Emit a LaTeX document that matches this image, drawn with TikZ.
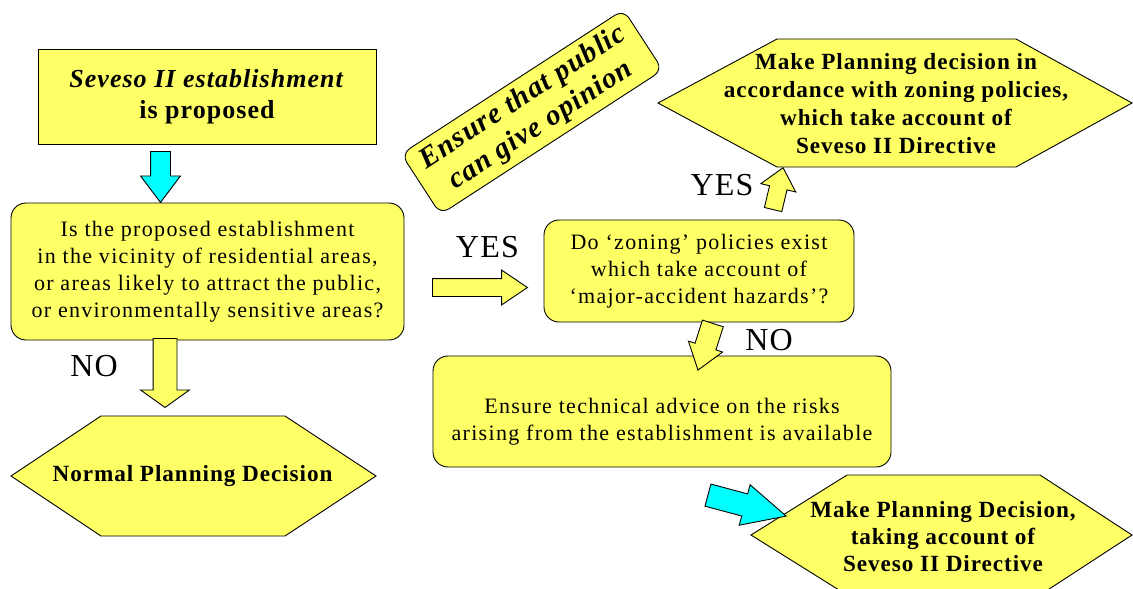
\documentclass[tikz,border=0pt]{standalone}
\usepackage{fontspec}
\setmainfont{Liberation Serif}[LetterSpace=4]
\usetikzlibrary{shapes.arrows}
\definecolor{boxyellow}{RGB}{255,255,102}
\definecolor{arrowcyan}{RGB}{0,255,255}

\begin{document}
\begin{tikzpicture}[x=1pt,y=-1pt]
        \tikzset{box/.style = {shape=rectangle,draw,fill=boxyellow,line width=0.9pt,align=center,inner sep=0pt}}
        \tikzset{roundbox/.style = {box,rounded corners=15pt}}
        \tikzset{hexline/.style = {draw,fill=boxyellow,line width=0.9pt}}
        \tikzset{blockarrow/.style = {shape=single arrow,draw,line width=0.9pt,inner xsep=0pt,minimum width=0pt,anchor=tail}}
        \tikzset{plain/.style = {align=center,font=\fontsize{22}{27}\selectfont\addfontfeature{LetterSpace=6}}}
        \tikzset{heavy/.style = {align=center,font=\fontsize{23.2}{28}\selectfont\bfseries}}
        \tikzset{answer/.style = {font=\fontsize{32}{32}\selectfont,inner sep=0pt}}
        \useasboundingbox (0,0) rectangle (1133,589);
        % boxes
        \node[box, minimum width=338pt, minimum height=95pt, font=\fontsize{26}{31}\selectfont\bfseries] (title) at (207,97) {\textit{Seveso II establishment}\\is proposed};
        \node[roundbox, plain, minimum width=393pt, minimum height=137pt] (vicinity) at (207.5,271.5) {Is the proposed establishment\\in the vicinity of residential areas,\\or areas likely to attract the public,\\or environmentally sensitive areas?};
        \node[roundbox, rounded corners=10pt, rotate=33, minimum width=265pt, minimum height=72pt, font=\fontsize{29}{33}\selectfont\bfseries\itshape] (public) at (532,112) {Ensure that public\\can give opinion};
        \node[roundbox, plain, minimum width=310pt, minimum height=102pt] (zoning) at (699,271) {Do `zoning' policies exist\\which take account of\\`major-accident hazards'?};
        \node[roundbox, minimum width=458pt, minimum height=111pt] (tech) at (662,411.5) {};
        \node[plain] (techtext) at (662,421.5) {Ensure technical advice on the risks\\arising from the establishment is available};
        % hexagons
        \draw[hexline] (11,476) -- (101,416) -- (285,416) -- (376,476) -- (285,536) -- (101,536) -- cycle;
        \node[heavy] (normal) at (192.5,476) {Normal Planning Decision};
        \draw[hexline] (658,103) -- (777,39) -- (1016,39) -- (1132,103) -- (1016,167) -- (777,167) -- cycle;
        \node[heavy] (zoneyes) at (896,104) {Make Planning decision in\\accordance with zoning policies,\\which take account of\\Seveso II Directive};
        \draw[hexline] (751,535) -- (847,475) -- (1040,475) -- (1132,535) -- (1040,595) -- (847,595) -- cycle;
        \node[heavy, font=\fontsize{23.2}{27}\selectfont\bfseries] (zoneno) at (943,537) {Make Planning Decision,\\taking account of\\Seveso II Directive};
        % arrows
        \node[blockarrow, fill=arrowcyan, rotate=-90, inner ysep=9.5pt, single arrow head extend=10pt, single arrow tip angle=74, minimum height=51pt] (arrIn) at (160.5,151) {};
        \node[blockarrow, fill=boxyellow, rotate=-90, inner ysep=11.5pt, single arrow head extend=12.5pt, single arrow tip angle=109, minimum height=69pt] (arrNo) at (165,338) {};
        \node[blockarrow, fill=boxyellow, inner ysep=8.5pt, single arrow head extend=8.5pt, single arrow tip angle=68, minimum height=95pt] (arrYes) at (432,287.5) {};
        \node[blockarrow, fill=boxyellow, rotate=76.6, inner ysep=8.5pt, single arrow head extend=9pt, single arrow tip angle=82, minimum height=43pt] (arrUp) at (773,210) {};
        \node[blockarrow, fill=boxyellow, rotate=-107.7, inner ysep=10.5pt, single arrow head extend=7pt, single arrow tip angle=72, minimum height=49pt] (arrDown) at (713,323) {};
        \node[blockarrow, fill=arrowcyan, rotate=-15, inner ysep=11pt, single arrow head extend=9.5pt, single arrow tip angle=52, minimum height=81pt] (arrOut) at (707.5,495) {};
        % answers
        \node[answer] (yesA) at (487.5,247) {YES};
        \node[answer] (noA) at (94,366) {NO};
        \node[answer] (yesB) at (722,185) {YES};
        \node[answer] (noB) at (769,340) {NO};
\end{tikzpicture}
\end{document}
